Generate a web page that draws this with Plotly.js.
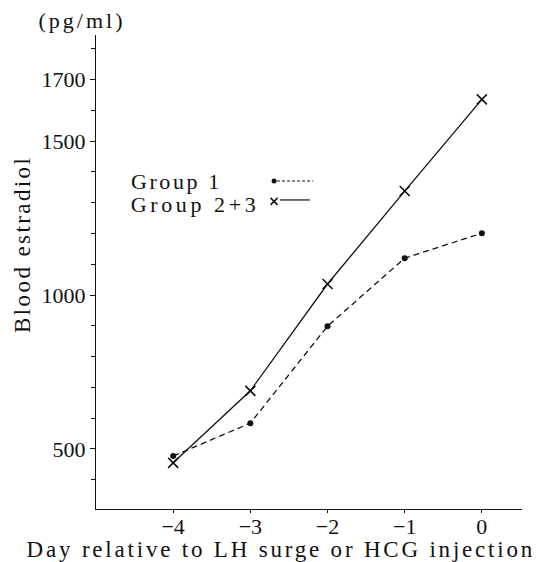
<!DOCTYPE html>
<html>
<head>
<meta charset="utf-8">
<script src="https://cdn.plot.ly/plotly-3.0.1.min.js"></script>
<style>
html,body{margin:0;padding:0;background:#fff;}
#chart{width:551px;height:562px;}
g.annotation text.annotation-text{letter-spacing:3px;}
g.annotation[data-index="1"] text.annotation-text{letter-spacing:2.4px;}
g.annotation[data-index="2"] text.annotation-text{letter-spacing:2.8px;}
g.annotation[data-index="3"] text.annotation-text{letter-spacing:2.6px;}
g.annotation[data-index="4"] text.annotation-text{letter-spacing:3.6px;}
</style>
</head>
<body>
<div id="chart"></div>
<script>
// Data
const days = [-4, -3, -2, -1, 0];
const group1 = [477, 584, 899, 1120, 1201];
const group23 = [455, 689, 1036, 1338, 1636];
const xTickVals = [-4, -3, -2, -1, 0];
const xTickText = ['\u22124', '\u22123', '\u22122', '\u22121', '0'];
const yTickVals = [500, 1000, 1500, 1700];
const yTickText = ['500', '1000', '1500', '1700'];
const legendNames = ['Group 1', 'Group 2+3'];

const FONT = '"Liberation Serif", "Times New Roman", serif';
const ink = '#111';

const traces = [
  {
    x: days, y: group1, type: 'scatter', mode: 'lines+markers', name: legendNames[0],
    line: {color: ink, width: 1.3, dash: '6px,4px'},
    marker: {symbol: 'circle', size: 6, color: ink},
    showlegend: false
  },
  {
    x: days, y: group23, type: 'scatter', mode: 'lines+markers', name: legendNames[1],
    line: {color: ink, width: 1.3},
    marker: {symbol: 'x-thin-open', size: 10, color: ink, line: {color: ink, width: 1.6}},
    showlegend: false
  },
  // legend samples (on an overlay axis in paper-like units)
  {
    x: [0.425, 0.509], y: [0.692, 0.692], xaxis: 'x2', yaxis: 'y2', mode: 'lines',
    line: {color: ink, width: 1.1, dash: '3px,2px'}, showlegend: false, hoverinfo: 'skip'
  },
  {
    x: [0.418], y: [0.692], xaxis: 'x2', yaxis: 'y2', mode: 'markers',
    marker: {symbol: 'circle', size: 5, color: ink}, showlegend: false, hoverinfo: 'skip'
  },
  {
    x: [0.432, 0.502], y: [0.652, 0.652], xaxis: 'x2', yaxis: 'y2', mode: 'lines',
    line: {color: ink, width: 1.2}, showlegend: false, hoverinfo: 'skip'
  },
  {
    x: [0.418], y: [0.649], xaxis: 'x2', yaxis: 'y2', mode: 'markers',
    marker: {symbol: 'x-thin-open', size: 7, color: ink, line: {color: ink, width: 1.5}}, showlegend: false, hoverinfo: 'skip'
  }
];

const layout = {
  width: 551, height: 562,
  margin: {l: 96, r: 29, t: 35, b: 53},
  paper_bgcolor: '#fff', plot_bgcolor: '#fff',
  font: {family: FONT, color: ink, size: 21},
  showlegend: false,
  xaxis: {
    range: [-5.0, 0.52], showgrid: false, zeroline: false,
    showline: true, linecolor: ink, linewidth: 1.2,
    ticks: 'outside', ticklen: 3, tickcolor: ink,
    tickvals: xTickVals, ticktext: xTickText,
    ticklabelstandoff: -6,
    tickfont: {family: FONT, size: 22, color: ink}
  },
  yaxis: {
    range: [305, 1845], showgrid: false, zeroline: false,
    showline: true, linecolor: ink, linewidth: 1.2,
    ticks: 'outside', ticklen: 5, tickcolor: ink,
    tickvals: yTickVals, ticktext: yTickText,
    tickfont: {family: FONT, size: 22, color: ink},
    minor: {dtick: 100, tick0: 0, ticks: 'outside', ticklen: 4, tickcolor: ink, showgrid: false}
  },
  xaxis2: {domain: [0, 1], range: [0, 1], overlaying: 'x', visible: false, fixedrange: true},
  yaxis2: {domain: [0, 1], range: [0, 1], overlaying: 'y', anchor: 'x2', visible: false, fixedrange: true},
  annotations: [
    {text: '(pg/ml)', xref: 'paper', yref: 'paper', x: -0.033, y: 1.030, showarrow: false,
     xanchor: 'center', yanchor: 'middle', font: {family: FONT, size: 22, color: ink}},
    {text: 'Blood estradiol', xref: 'paper', yref: 'paper', x: -0.174, y: 0.559, showarrow: false,
     textangle: -90, xanchor: 'center', yanchor: 'middle', font: {family: FONT, size: 23, color: ink}},
    {text: 'Day relative to LH surge or HCG injection', xref: 'paper', yref: 'paper', x: 0.434, y: -0.0855,
     showarrow: false, xanchor: 'center', yanchor: 'middle', font: {family: FONT, size: 23, color: ink}},
    {text: legendNames[0], xref: 'paper', yref: 'paper', x: 0.188, y: 0.690, showarrow: false,
     xanchor: 'center', yanchor: 'middle', font: {family: FONT, size: 22, color: ink}},
    {text: legendNames[1], xref: 'paper', yref: 'paper', x: 0.232, y: 0.643, showarrow: false,
     xanchor: 'center', yanchor: 'middle', font: {family: FONT, size: 22, color: ink}}
  ]
};

Plotly.newPlot('chart', traces, layout, {staticPlot: true, displayModeBar: false});
</script>
</body>
</html>
